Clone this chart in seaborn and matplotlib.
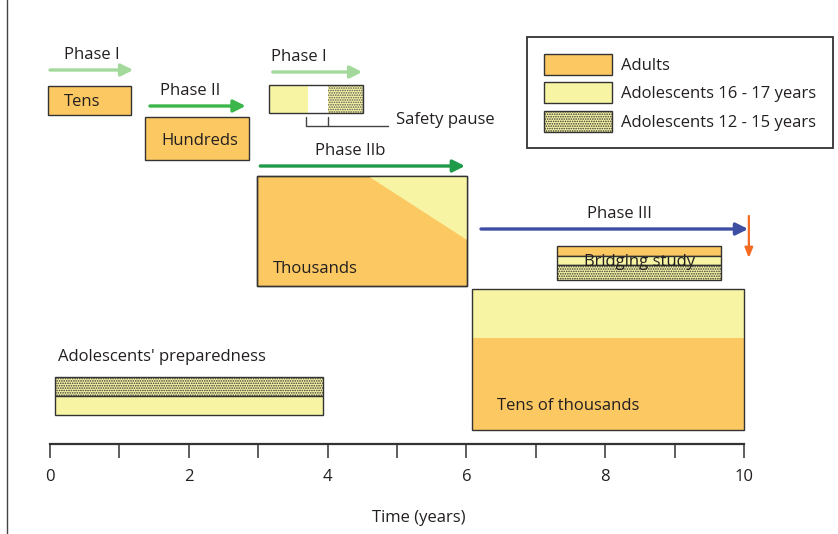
import numpy as np
import seaborn as sns
import matplotlib.pyplot as plt
from matplotlib.patches import Patch
from matplotlib.lines import Line2D

sns.set_theme(style='white')
plt.rcParams['font.family'] = ['Open Sans', 'DejaVu Sans']
plt.rcParams['hatch.linewidth'] = 0.8
plt.rcParams['hatch.color'] = '#555555'

# colours
ORANGE = '#fcc862'
YELLOW = '#f7f4a4'
EDGE = '#333333'
TXT = '#231f20'
DOTS = '.......'
FS = 12
DY = 2  # text baseline nudge

# trial size boxes (years on x, rows are vertical slots from the top)
trial_labels = ['Tens', 'Hundreds', 'Thousands', 'Tens of thousands']
trial_start = [-0.03, 1.37, 2.98, 6.08]
trial_end = [1.17, 2.87, 6.01, 10.0]
trial_top = [86, 117, 176, 289]
trial_bottom = [115, 160, 286, 430]
trial_text_x = [0.2, 1.61, 3.21, 6.44]
trial_text_y = [100, 139, 267, 404]

# phase arrows
phase_names = ['Phase I', 'Phase II', 'Phase I', 'Phase IIb', 'Phase III']
phase_start = [0.0, 1.44, 3.21, 3.03, 6.21]
phase_end = [1.2, 2.82, 4.5, 5.98, 10.06]
phase_row = [70, 106, 72, 166, 229]
phase_label_x = [0.6, 2.02, 3.58, 4.32, 8.2]
phase_colors = ['#a3d99b', '#3cb54a', '#a3d99b', '#1e9a48', '#3e4fa3']

# adolescent phase I box: 16-17 years, safety pause, 12-15 years
ado_start = [3.16, 3.72, 4.0]
ado_end = [3.72, 4.0, 4.51]
ado_top, ado_bottom = 85, 113

# bridging study stripes
bridge_start, bridge_end = 7.31, 9.67
bridge_top = [246, 256, 265]
bridge_bottom = [256, 265, 280]

# adolescents' preparedness
prep_start, prep_end = 0.07, 3.93
prep_top = [377, 396]
prep_bottom = [396, 415]

years = list(range(11))
year_labels = [str(y) if y % 2 == 0 else '' for y in years]

fig = plt.figure(figsize=(8.38, 5.34), dpi=100)
ax = fig.add_axes([0, 90 / 534, 1, 444 / 534])
ax.set_xlim(-50 / 69.4, 788 / 69.4)
ax.set_ylim(444, 0)


def box(x0, x1, top, bottom, fc, ec=EDGE, hatch=None, lw=1.0, z=2):
    ax.barh((top + bottom) / 2, x1 - x0, left=x0, height=bottom - top,
            color=fc, edgecolor=ec, hatch=hatch, linewidth=lw, zorder=z)


# trial boxes
box(trial_start[0], trial_end[0], trial_top[0], trial_bottom[0], ORANGE)
box(trial_start[1], trial_end[1], trial_top[1], trial_bottom[1], ORANGE)
# thousands: adults with growing share of adolescents
box(trial_start[2], trial_end[2], trial_top[2], trial_bottom[2], ORANGE)
ax.fill([4.58, trial_end[2], trial_end[2]], [trial_top[2], trial_top[2], 240],
        color=YELLOW, lw=0, zorder=3)
box(trial_start[2], trial_end[2], trial_top[2], trial_bottom[2], 'none', z=4)
# tens of thousands
box(trial_start[3], trial_end[3], trial_top[3], 338, YELLOW, ec='none')
box(trial_start[3], trial_end[3], 338, trial_bottom[3], ORANGE, ec='none')
box(trial_start[3], trial_end[3], trial_top[3], trial_bottom[3], 'none', z=4)

for lab, tx, ty in zip(trial_labels, trial_text_x, trial_text_y):
    ax.text(tx, ty + DY, lab, ha='left', va='center', fontsize=FS, color=TXT, zorder=5)

# adolescent phase I box
box(ado_start[0], ado_end[0], ado_top, ado_bottom, YELLOW, ec='none')
box(ado_start[1], ado_end[1], ado_top, ado_bottom, 'white', ec='none')
box(ado_start[2], ado_end[2], ado_top, ado_bottom, YELLOW, ec='#555555', hatch=DOTS, lw=0)
box(ado_start[0], ado_end[2], ado_top, ado_bottom, 'none', z=4)

# safety pause bracket
ax.plot([3.69, 3.69, 4.87], [117, 126, 126], color='#444444', lw=1)
ax.plot([4.0, 4.0], [117, 126], color='#444444', lw=1)
ax.text(4.98, 118 + DY, 'Safety pause', ha='left', va='center', fontsize=FS, color=TXT)

# phase arrows
for name, x0, x1, row, lx, c in zip(phase_names, phase_start, phase_end,
                                    phase_row, phase_label_x, phase_colors):
    ax.annotate('', xy=(x1, row), xytext=(x0, row),
                arrowprops=dict(arrowstyle='-|>,head_length=0.6,head_width=0.3',
                                color=c, lw=2.4, shrinkA=0, shrinkB=0))
    ax.text(lx, row - 17 + DY, name, ha='center', va='center', fontsize=FS, color=TXT)

# end of phase III marker
ax.annotate('', xy=(10.07, 258), xytext=(10.07, 216),
            arrowprops=dict(arrowstyle='-|>,head_length=0.5,head_width=0.2',
                            color='#f26b21', lw=1.6, shrinkA=0, shrinkB=0))

# bridging study
box(bridge_start, bridge_end, bridge_top[0], bridge_bottom[0], ORANGE)
box(bridge_start, bridge_end, bridge_top[1], bridge_bottom[1], YELLOW)
box(bridge_start, bridge_end, bridge_top[2], bridge_bottom[2], YELLOW, hatch=DOTS)
ax.text((bridge_start + bridge_end) / 2, 260 + DY, 'Bridging study', ha='center',
        va='center', fontsize=FS, color=TXT, zorder=5)

# adolescents' preparedness
ax.text(0.12, 355 + DY, "Adolescents' preparedness", ha='left', va='center',
        fontsize=FS, color=TXT)
box(prep_start, prep_end, prep_top[0], prep_bottom[0], YELLOW, hatch=DOTS)
box(prep_start, prep_end, prep_top[1], prep_bottom[1], YELLOW)

# legend
handles = [Patch(facecolor=ORANGE, edgecolor=EDGE),
           Patch(facecolor=YELLOW, edgecolor=EDGE),
           Patch(facecolor=YELLOW, edgecolor=EDGE, hatch=DOTS)]
leg = ax.legend(handles, ['Adults', 'Adolescents 16 - 17 years', 'Adolescents 12 - 15 years'],
                loc='upper left', bbox_to_anchor=(527 / 838, 1 - 37 / 534),
                bbox_transform=fig.transFigure, borderaxespad=0, fontsize=FS,
                handlelength=4.1, handleheight=1.56, labelspacing=0.45,
                handletextpad=0.55, borderpad=1.0, fancybox=False, framealpha=1)
leg.get_frame().set_edgecolor(EDGE)
leg.get_frame().set_linewidth(1.3)
for t in leg.get_texts():
    t.set_color(TXT)

# time axis
sns.despine(ax=ax, left=True, top=True, right=True)
ax.spines['bottom'].set_bounds(0, 10)
ax.spines['bottom'].set_color(EDGE)
ax.spines['bottom'].set_linewidth(1.6)
ax.set_xticks(years)
ax.set_xticklabels(year_labels)
ax.set_yticks([])
ax.tick_params(axis='x', direction='out', length=10, width=1.1, pad=8,
               colors=EDGE, labelsize=FS, labelcolor=TXT, bottom=True)
ax.set_xlabel('Time (years)', fontsize=FS, color=TXT, labelpad=18)
ax.grid(False)

# left border
fig.add_artist(Line2D([7 / 838, 7 / 838], [0, 1], color='#444444', lw=1))

fig.savefig('out.png', dpi=100)
